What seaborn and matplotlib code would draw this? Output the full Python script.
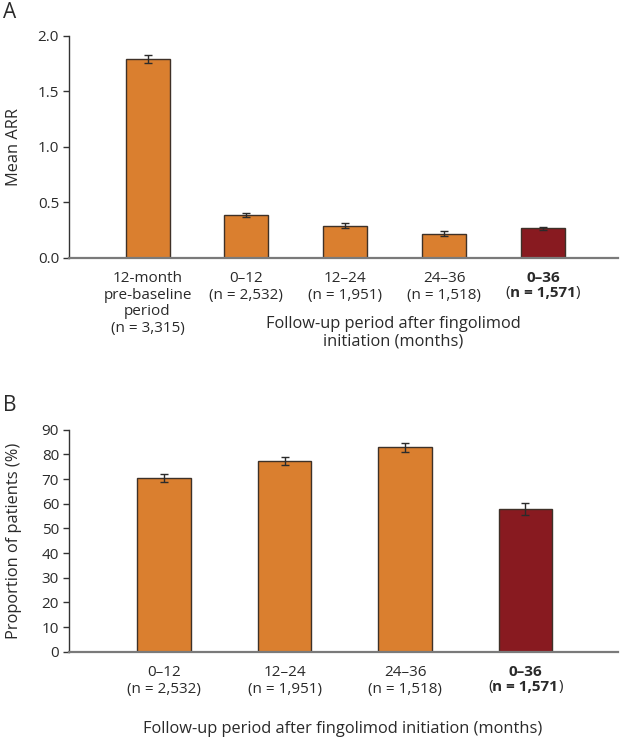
"""
Mean ARR and proportion of relapse-free patients before and after
fingolimod initiation (two stacked bar panels, A and B).
"""

import numpy as np
import matplotlib.pyplot as plt
import matplotlib.transforms as mtransforms
import seaborn as sns

# ----------------------------------------------------------------------
# Data
# ----------------------------------------------------------------------
arr_labels = [
    "12-month\npre-baseline\nperiod\n(n = 3,315)",
    "0\u201312\n(n = 2,532)",
    "12\u201324\n(n = 1,951)",
    "24\u201336\n(n = 1,518)",
    "0\u201336",
]
arr_mean = [1.79, 0.385, 0.29, 0.218, 0.265]
arr_err = [0.036, 0.021, 0.026, 0.024, 0.015]

prop_labels = [
    "0\u201312\n(n = 2,532)",
    "12\u201324\n(n = 1,951)",
    "24\u201336\n(n = 1,518)",
    "0\u201336",
]
prop_mean = [70.5, 77.3, 82.9, 57.9]
prop_err = [1.6, 1.6, 1.8, 2.3]

bold_n = "n = 1,571"

ORANGE = "#DA7F2F"
DARKRED = "#881A20"
EDGE = "#3E3128"
TEXT = "#2a2a2a"

# ----------------------------------------------------------------------
# Style
# ----------------------------------------------------------------------
sns.set_style("ticks")
plt.rcParams["font.family"] = ["Open Sans", "DejaVu Sans"]
plt.rcParams["text.color"] = TEXT
plt.rcParams["axes.labelcolor"] = TEXT
plt.rcParams["xtick.color"] = TEXT
plt.rcParams["ytick.color"] = TEXT

TICK_FS = 11
LABEL_FS = 11.8
XPAD = 9.5  # points between x axis and tick labels


def draw_panel(ax, labels, values, errors, ylim, yticks, yfmt, xlim):
    cats = [f"c{i}" for i in range(len(values))]
    colors = [ORANGE] * (len(values) - 1) + [DARKRED]
    sns.barplot(
        x=cats, y=values, hue=cats, palette=colors, legend=False,
        width=0.445, saturation=1, edgecolor=EDGE, linewidth=1.0, ax=ax,
    )
    ax.errorbar(
        np.arange(len(values)), values, yerr=errors, fmt="none",
        ecolor="#2b2b2b", elinewidth=1.0, capsize=3, capthick=1.0,
    )
    ax.set_xlim(*xlim)
    ax.set_ylim(*ylim)
    ax.set_yticks(yticks)
    ax.set_yticklabels([yfmt.format(v) for v in yticks], fontsize=TICK_FS)
    ax.set_xticks(np.arange(len(values)))
    ax.set_xticklabels(labels[:-1] + [""], fontsize=TICK_FS, linespacing=1.15)
    ax.tick_params(axis="x", length=0, pad=XPAD)
    ax.tick_params(axis="y", length=4.5, width=1, color="#333333", pad=3)

    sns.despine(ax=ax)
    ax.spines["left"].set_color("#333333")
    ax.spines["left"].set_linewidth(1.0)
    ax.spines["bottom"].set_color("#7a7a7a")
    ax.spines["bottom"].set_linewidth(1.6)

    # last tick label: bold text with normal-weight parentheses
    offset = mtransforms.ScaledTranslation(0, -XPAD / 72, ax.figure.dpi_scale_trans)
    t1 = ax.text(len(values) - 1, 0, labels[-1], fontsize=TICK_FS,
                 weight="bold", ha="center", va="top",
                 transform=ax.get_xaxis_transform() + offset)
    t2 = ax.annotate(bold_n, xy=(0.5, 0), xycoords=t1, xytext=(0, -0.5),
                     textcoords="offset points", fontsize=TICK_FS,
                     weight="bold", ha="center", va="top")
    ax.annotate("(", xy=(0, 0), xycoords=t2, ha="right", va="bottom",
                fontsize=TICK_FS)
    ax.annotate(")", xy=(1, 0), xycoords=t2, ha="left", va="bottom",
                fontsize=TICK_FS)


fig = plt.figure(figsize=(6.2, 7.37), dpi=100)
ax_a = fig.add_axes([0.112, 0.6503, 0.885, 0.3013])
ax_b = fig.add_axes([0.112, 0.1157, 0.885, 0.3013])

# Panel A - mean ARR
draw_panel(ax_a, arr_labels, arr_mean, arr_err, (0, 2.0),
           [0, 0.5, 1.0, 1.5, 2.0], "{:.1f}", (-0.79, 4.76))
ax_a.set_ylabel("Mean ARR", fontsize=LABEL_FS)
ax_a.yaxis.set_label_coords(-0.087, 0.5)
ax_a.set_xlabel("Follow-up period after fingolimod\ninitiation (months)",
                fontsize=LABEL_FS, linespacing=1.15)
ax_a.xaxis.set_label_coords(0.59, -0.263)

# Panel B - proportion of patients
draw_panel(ax_b, prop_labels, prop_mean, prop_err, (0, 90),
           list(range(0, 91, 10)), "{:d}", (-0.787, 3.77))
ax_b.set_ylabel("Proportion of patients (%)", fontsize=LABEL_FS)
ax_b.yaxis.set_label_coords(-0.087, 0.5)
ax_b.set_xlabel("Follow-up period after fingolimod initiation (months)",
                fontsize=LABEL_FS)
ax_b.xaxis.set_label_coords(0.497, -0.312)

fig.text(0.005, 1 - 2 / 737, "A", fontsize=15, ha="left", va="top")
fig.text(0.005, 1 - 395 / 737, "B", fontsize=15, ha="left", va="top")

fig.savefig("out.png", dpi=100)
